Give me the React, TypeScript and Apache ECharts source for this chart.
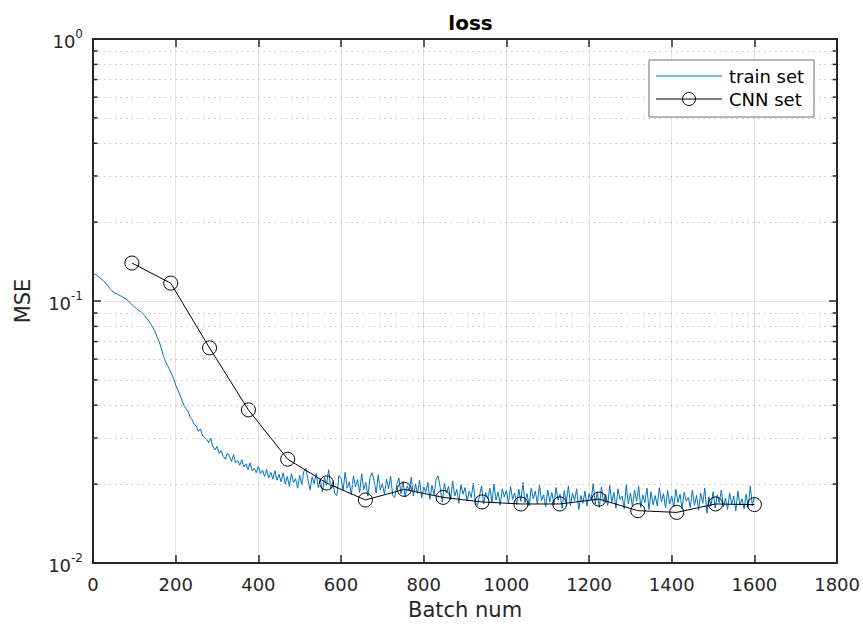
import React, { useEffect, useRef } from "react";
import * as echarts from "echarts";

const trainStep = 5;
const trainLoss = [
  0.1280, 0.1265, 0.1250, 0.1232, 0.1215, 0.1196, 0.1172, 0.1150, 0.1118, 0.1095,
  0.1081, 0.1068, 0.1060, 0.1049, 0.1040, 0.1028, 0.1016, 0.1003, 0.0982, 0.0966,
  0.0950, 0.0938, 0.0920, 0.0912, 0.0897, 0.0880, 0.0858, 0.0840, 0.0816, 0.0790,
  0.0764, 0.0730, 0.0700, 0.0662, 0.0620, 0.0590, 0.0568, 0.0549, 0.0528, 0.0505,
  0.0478, 0.0460, 0.0438, 0.0418, 0.0400, 0.0388, 0.0378, 0.0360, 0.0352, 0.0338,
  0.0333, 0.0318, 0.0325, 0.0306, 0.0302, 0.0296, 0.0288, 0.0299, 0.0278, 0.0270,
  0.0279, 0.0262, 0.0268, 0.0255, 0.0249, 0.0262, 0.0256, 0.0244, 0.0259, 0.0241,
  0.0246, 0.0236, 0.0248, 0.0233, 0.0239, 0.0227, 0.0241, 0.0225, 0.0230, 0.0221,
  0.0234, 0.0219, 0.0226, 0.0214, 0.0228, 0.0211, 0.0222, 0.0209, 0.0225, 0.0207,
  0.0218, 0.0204, 0.0221, 0.0200, 0.0214, 0.0196, 0.0219, 0.0203, 0.0210, 0.0193,
  0.0216, 0.0199, 0.0224, 0.0230, 0.0208, 0.0190, 0.0213, 0.0201, 0.0220, 0.0194,
  0.0209, 0.0187, 0.0212, 0.0198, 0.0227, 0.0192, 0.0205, 0.0184, 0.0181, 0.0216,
  0.0210, 0.0189, 0.0222, 0.0193, 0.0204, 0.0182, 0.0215, 0.0195, 0.0208, 0.0186,
  0.0219, 0.0191, 0.0203, 0.0180, 0.0212, 0.0221, 0.0206, 0.0185, 0.0217, 0.0190,
  0.0201, 0.0183, 0.0209, 0.0192, 0.0214, 0.0181, 0.0178, 0.0199, 0.0211, 0.0184,
  0.0205, 0.0179, 0.0197, 0.0189, 0.0213, 0.0180, 0.0200, 0.0184, 0.0207, 0.0177,
  0.0195, 0.0186, 0.0203, 0.0175, 0.0198, 0.0182, 0.0209, 0.0215, 0.0193, 0.0171,
  0.0201, 0.0185, 0.0196, 0.0174, 0.0205, 0.0180, 0.0191, 0.0169, 0.0199, 0.0183,
  0.0194, 0.0172, 0.0188, 0.0178, 0.0202, 0.0170, 0.0166, 0.0181, 0.0197, 0.0168,
  0.0186, 0.0176, 0.0193, 0.0171, 0.0200, 0.0174, 0.0187, 0.0166, 0.0192, 0.0179,
  0.0189, 0.0169, 0.0196, 0.0175, 0.0185, 0.0167, 0.0191, 0.0172, 0.0203, 0.0170,
  0.0184, 0.0165, 0.0193, 0.0176, 0.0188, 0.0168, 0.0198, 0.0173, 0.0182, 0.0164,
  0.0190, 0.0171, 0.0186, 0.0167, 0.0194, 0.0174, 0.0183, 0.0162, 0.0189, 0.0170,
  0.0197, 0.0166, 0.0185, 0.0173, 0.0192, 0.0160, 0.0181, 0.0169, 0.0188, 0.0165,
  0.0184, 0.0174, 0.0201, 0.0168, 0.0187, 0.0163, 0.0195, 0.0171, 0.0183, 0.0166,
  0.0198, 0.0170, 0.0186, 0.0162, 0.0192, 0.0175, 0.0180, 0.0161, 0.0199, 0.0168,
  0.0185, 0.0164, 0.0190, 0.0172, 0.0196, 0.0163, 0.0182, 0.0170, 0.0193, 0.0160,
  0.0187, 0.0167, 0.0181, 0.0165, 0.0194, 0.0171, 0.0184, 0.0162, 0.0189, 0.0168,
  0.0180, 0.0164, 0.0191, 0.0170, 0.0183, 0.0161, 0.0186, 0.0172, 0.0178, 0.0163,
  0.0190, 0.0166, 0.0181, 0.0159, 0.0185, 0.0169, 0.0193, 0.0155, 0.0179, 0.0165,
  0.0187, 0.0162, 0.0182, 0.0170, 0.0190, 0.0164, 0.0177, 0.0160, 0.0185, 0.0167,
  0.0180, 0.0158, 0.0188, 0.0166, 0.0176, 0.0161, 0.0183, 0.0163, 0.0197, 0.0165,
  0.0179,
];

const cnnBatch = [94, 188, 282, 376, 471, 565, 659, 753, 847, 941, 1035, 1129, 1224, 1318, 1412, 1506, 1600];
const cnnLoss = [0.1396, 0.117, 0.0662, 0.0384, 0.0249, 0.0202, 0.0174, 0.0191, 0.0178, 0.0171, 0.0168, 0.0168, 0.01754, 0.01584, 0.0156, 0.0168, 0.0167];

const minorLogValues = [0.02, 0.03, 0.04, 0.05, 0.06, 0.07, 0.08, 0.09, 0.2, 0.3, 0.4, 0.5, 0.6, 0.7, 0.8, 0.9];
const legendNames = ["train set", "CNN set"];

const FONT = "DejaVu Sans, Verdana, sans-serif";
const DARK = "#262626";
const BLUE = "#0072BD";

export default function App() {
  const ref = useRef<HTMLDivElement>(null);
  useEffect(() => {
    if (!ref.current) return;
    const chart = echarts.init(ref.current, undefined, { renderer: "svg" });
    const trainData = trainLoss.map((v, i) => [i * trainStep, v]);
    const cnnData = cnnLoss.map((v, i) => [cnnBatch[i], v]);
    const supMap: Record<string, string> = { "1": "{b|10}{s|0}", "0.1": "{b|10}{s|-1}", "0.01": "{b|10}{s|-2}" };
    chart.setOption({
      animation: false,
      textStyle: { fontFamily: FONT },
      title: {
        text: "loss",
        left: 465.5,
        top: 8,
        textAlign: "center",
        textStyle: { fontFamily: FONT, fontSize: 20, fontWeight: "bold", color: "#000" },
      },
      grid: { left: 93, right: 25, top: 39, bottom: 63 },
      xAxis: [
        {
          type: "value",
          min: 0,
          max: 1800,
          interval: 200,
          name: "Batch num",
          nameLocation: "middle",
          nameGap: 36,
          nameTextStyle: { fontFamily: FONT, fontSize: 21, color: DARK },
          axisLine: { lineStyle: { color: DARK, width: 2 } },
          axisTick: { inside: true, length: 8, lineStyle: { color: DARK, width: 1.5 } },
          axisLabel: { fontFamily: FONT, fontSize: 18, color: DARK, margin: 12, formatter: (v: number) => String(v) },
          splitLine: { show: true, lineStyle: { color: "#e3e3e3", width: 1 } },
        },
        {
          type: "value",
          position: "top",
          min: 0,
          max: 1800,
          interval: 200,
          axisLine: { onZero: false, lineStyle: { color: DARK, width: 2 } },
          axisTick: { inside: true, length: 8, lineStyle: { color: DARK, width: 1.5 } },
          axisLabel: { show: false },
          splitLine: { show: false },
        },
      ],
      yAxis: [
        {
          type: "log",
          logBase: 10,
          min: 0.01,
          max: 1,
          name: "MSE",
          nameLocation: "middle",
          nameGap: 60,
          nameTextStyle: { fontFamily: FONT, fontSize: 21, color: DARK },
          axisLine: { lineStyle: { color: DARK, width: 2 } },
          axisTick: { inside: true, length: 8, lineStyle: { color: DARK, width: 1.5 } },
          axisLabel: {
            margin: 10,
            formatter: (v: number) => supMap[String(+v.toPrecision(3))] ?? "",
            rich: {
              b: { fontFamily: FONT, fontSize: 18, color: DARK, lineHeight: 22, verticalAlign: "bottom" },
              s: { fontFamily: FONT, fontSize: 12, color: DARK, lineHeight: 22, verticalAlign: "top", padding: [0, 0, 9, 0] },
            },
          },
          splitLine: { show: true, lineStyle: { color: "#e3e3e3", width: 1 } },
        },
        {
          type: "log",
          logBase: 10,
          min: 0.01,
          max: 1,
          position: "right",
          axisLine: { onZero: false, lineStyle: { color: DARK, width: 2 } },
          axisTick: { inside: true, length: 8, lineStyle: { color: DARK, width: 1.5 } },
          axisLabel: { show: false },
          splitLine: { show: false },
        },
      ],
      series: [
        {
          name: "minor grid",
          type: "line",
          data: [],
          silent: true,
          z: 0,
          markLine: {
            silent: true,
            symbol: ["none", "none"],
            label: { show: false },
            lineStyle: { type: [1.5, 4], color: "#bdbdbd", width: 1 },
            data: minorLogValues.map((v) => ({ yAxis: v })),
          },
        },
        {
          name: legendNames[0],
          type: "line",
          data: trainData,
          showSymbol: false,
          symbol: "none",
          z: 2,
          lineStyle: { color: BLUE, width: 1 },
          itemStyle: { color: BLUE },
        },
        {
          name: legendNames[1],
          type: "line",
          data: cnnData,
          symbol: "circle",
          symbolSize: 14,
          z: 3,
          lineStyle: { color: "#000", width: 1 },
          itemStyle: { color: "rgba(255,255,255,0)", borderColor: "#000", borderWidth: 1 },
        },
      ],
    });
    const left = chart.convertToPixel({ xAxisIndex: 0 }, 0) as number;
    const right = chart.convertToPixel({ xAxisIndex: 0 }, 1800) as number;
    const graphics: any[] = [];
    minorLogValues.forEach((v) => {
      const y = chart.convertToPixel({ yAxisIndex: 0 }, v) as number;
      graphics.push({ type: "line", silent: true, z: 5, shape: { x1: left, y1: y, x2: left + 4.5, y2: y }, style: { stroke: DARK, lineWidth: 1.5 } });
      graphics.push({ type: "line", silent: true, z: 5, shape: { x1: right - 4.5, y1: y, x2: right, y2: y }, style: { stroke: DARK, lineWidth: 1.5 } });
    });
    // legend box
    const lx = 649, ly = 60, lw = 165, lh = 57;
    graphics.push({ type: "rect", z: 10, shape: { x: lx, y: ly, width: lw, height: lh }, style: { fill: "#fff", stroke: "#6e6e6e", lineWidth: 1 } });
    graphics.push({ type: "line", z: 11, shape: { x1: lx + 7, y1: ly + 16, x2: lx + 73, y2: ly + 16 }, style: { stroke: BLUE, lineWidth: 1.2 } });
    graphics.push({ type: "line", z: 11, shape: { x1: lx + 7, y1: ly + 39, x2: lx + 73, y2: ly + 39 }, style: { stroke: "#000", lineWidth: 1 } });
    graphics.push({ type: "circle", z: 12, shape: { cx: lx + 40, cy: ly + 39, r: 6.5 }, style: { fill: "#fff", stroke: "#000", lineWidth: 1 } });
    graphics.push({ type: "line", z: 13, shape: { x1: lx + 33.5, y1: ly + 39, x2: lx + 46.5, y2: ly + 39 }, style: { stroke: "#000", lineWidth: 1 } });
    graphics.push({ type: "text", z: 12, x: lx + 80, y: ly + 16, style: { text: legendNames[0], fontFamily: FONT, fontSize: 18, fill: "#000", verticalAlign: "middle" } });
    graphics.push({ type: "text", z: 12, x: lx + 80, y: ly + 39, style: { text: legendNames[1], fontFamily: FONT, fontSize: 18, fill: "#000", verticalAlign: "middle" } });
    chart.setOption({ graphic: graphics });
    return () => chart.dispose();
  }, []);
  return (
    <div
      ref={ref}
      style={{ position: "fixed", left: 0, top: 0, width: 863, height: 626, background: "#fff" }}
    />
  );
}
